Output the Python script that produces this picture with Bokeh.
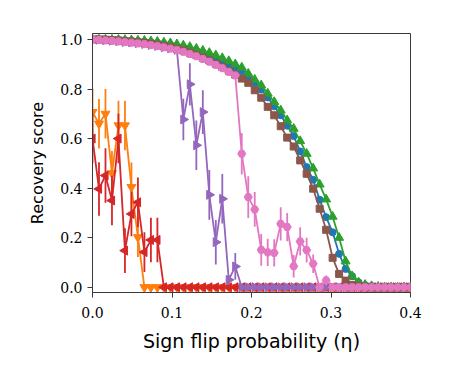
import numpy as np
from bokeh.plotting import figure
from bokeh.models import Range1d, FixedTicker, PrintfTickFormatter
from bokeh.embed import file_html
from bokeh.resources import INLINE

# x grid: sign flip probability
eta = np.linspace(0.0, 0.4, 50)

x_ticks = [0.0, 0.1, 0.2, 0.3, 0.4]
y_ticks = [0.0, 0.2, 0.4, 0.6, 0.8, 1.0]

blue = [1.000, 1.000, 1.000, 0.998, 0.998, 0.996, 0.995, 0.993, 0.991, 0.989,
        0.986, 0.982, 0.978, 0.973, 0.967, 0.960, 0.953, 0.944, 0.934, 0.922,
        0.910, 0.897, 0.883, 0.872, 0.849, 0.824, 0.798, 0.766, 0.730, 0.694,
        0.652, 0.610, 0.548, 0.485, 0.434, 0.353, 0.283, 0.222, 0.135, 0.074,
        0.045, 0.020, 0.008, 0.003, 0.001, 0.000, 0.000, 0.000, 0.000, 0.000]

orange = [0.707, 0.660, 0.700, 0.460, 0.653, 0.653, 0.404, 0.202] + [0.0] * 42
orange_err = [0.094, 0.100, 0.100, 0.090, 0.100, 0.100, 0.100, 0.080] + [0.0] * 42

green = [1.000, 1.000, 1.000, 0.999, 0.999, 0.998, 0.997, 0.996, 0.995, 0.993,
         0.991, 0.988, 0.985, 0.981, 0.976, 0.970, 0.963, 0.955, 0.946, 0.936,
         0.925, 0.913, 0.900, 0.887, 0.862, 0.838, 0.815, 0.782, 0.748, 0.714,
         0.674, 0.640, 0.590, 0.539, 0.480, 0.415, 0.355, 0.285, 0.200, 0.105,
         0.045, 0.020, 0.010, 0.005, 0.002, 0.000, 0.000, 0.000, 0.000, 0.000]

red = [0.600, 0.397, 0.451, 0.350, 0.600, 0.148, 0.296, 0.343, 0.142, 0.191,
       0.191] + [0.0] * 39
red_err = [0.100, 0.108, 0.110, 0.100, 0.100, 0.090, 0.090, 0.100, 0.080, 0.090,
           0.090] + [0.0] * 39

purple = [1.000, 0.999, 0.997, 0.995, 0.993, 0.990, 0.988, 0.985, 0.982, 0.978,
          0.974, 0.969, 0.964, 0.958, 0.677, 0.819, 0.573, 0.707, 0.373, 0.182,
          0.357, 0.030, 0.084] + [0.0] * 27
purple_err = [0.0] * 14 + [0.084, 0.085, 0.100, 0.088, 0.100, 0.090, 0.100, 0.020,
                           0.054] + [0.0] * 27

brown = [1.000, 1.000, 0.999, 0.997, 0.996, 0.993, 0.991, 0.988, 0.986, 0.982,
         0.978, 0.973, 0.968, 0.962, 0.955, 0.946, 0.937, 0.926, 0.915, 0.902,
         0.889, 0.874, 0.858, 0.842, 0.825, 0.795, 0.765, 0.728, 0.694, 0.650,
         0.604, 0.568, 0.512, 0.458, 0.398, 0.317, 0.232, 0.119, 0.054, 0.027,
         0.010, 0.004, 0.002, 0.000, 0.000, 0.000, 0.000, 0.000, 0.000, 0.000]

pink = [1.000, 0.998, 0.996, 0.994, 0.992, 0.989, 0.987, 0.984, 0.981, 0.977,
        0.973, 0.968, 0.963, 0.957, 0.950, 0.941, 0.932, 0.921, 0.910, 0.897,
        0.884, 0.869, 0.855, 0.539, 0.364, 0.314, 0.151, 0.141, 0.139, 0.256,
        0.243, 0.085, 0.185, 0.150, 0.095, 0.000, 0.028] + [0.0] * 13
pink_err = [0.0] * 23 + [0.084, 0.084, 0.070, 0.064, 0.055, 0.055, 0.067, 0.057,
                         0.045, 0.057, 0.050, 0.037, 0.000, 0.020] + [0.0] * 13

series = [
    ("#1f77b4", blue, None, "circle", 0.0, 7),
    ("#ff7f0e", orange, orange_err, "inverted_triangle", 0.0, 9),
    ("#2ca02c", green, None, "triangle", 0.0, 9),
    ("#d62728", red, red_err, "triangle", np.pi / 2, 9),
    ("#9467bd", purple, purple_err, "triangle", -np.pi / 2, 9),
    ("#8c564b", brown, None, "square", 0.0, 7),
    ("#e377c2", pink, pink_err, "hex", 0.0, 8),
]

p = figure(frame_width=318, frame_height=259, output_backend="svg",
           toolbar_location=None, x_range=Range1d(0.0, 0.4),
           y_range=Range1d(-0.021, 1.024),
           min_border_left=92, min_border_top=33, min_border_right=30,
           min_border_bottom=72, background_fill_color="white",
           border_fill_color="white")

for color, ys, errs, marker, ang, size in series:
    ys = np.asarray(ys)
    p.line(eta, ys, line_color=color, line_width=1.8)
    if errs is not None:
        errs = np.asarray(errs)
        m = errs > 0
        p.segment(x0=eta[m], y0=ys[m] - errs[m], x1=eta[m], y1=ys[m] + errs[m],
                  line_color=color, line_width=1.8)
    p.scatter(eta, ys, marker=marker, angle=ang, size=size,
              fill_color=color, line_color=color, line_width=1)

p.xgrid.visible = False
p.ygrid.visible = False
p.outline_line_color = "#3a3a3a"
p.outline_line_width = 1

p.xaxis.ticker = FixedTicker(ticks=x_ticks)
p.yaxis.ticker = FixedTicker(ticks=y_ticks)
p.xaxis.formatter = PrintfTickFormatter(format="%.1f")
p.yaxis.formatter = PrintfTickFormatter(format="%.1f")

for ax in (p.xaxis, p.yaxis):
    ax.axis_line_color = "#3a3a3a"
    ax.major_tick_line_color = "#3a3a3a"
    ax.major_tick_out = 5
    ax.major_tick_in = 0
    ax.minor_tick_line_color = None
    ax.major_label_text_font = "'DejaVu Serif', serif"
    ax.major_label_text_font_size = "14px"
    ax.major_label_text_color = "black"
    ax.axis_label_text_font = "DejaVu Sans"
    ax.axis_label_text_font_style = "normal"
    ax.axis_label_text_color = "black"

p.xaxis.major_label_standoff = 9
p.yaxis.major_label_standoff = 5

p.xaxis.axis_label = "Sign flip probability (η)"
p.xaxis.axis_label_text_font_size = "19px"
p.xaxis.axis_label_standoff = 9
p.yaxis.axis_label = "Recovery score"
p.yaxis.axis_label_text_font_size = "16px"
p.yaxis.axis_label_standoff = 10

open("out.html", "w").write(file_html(p, INLINE))
